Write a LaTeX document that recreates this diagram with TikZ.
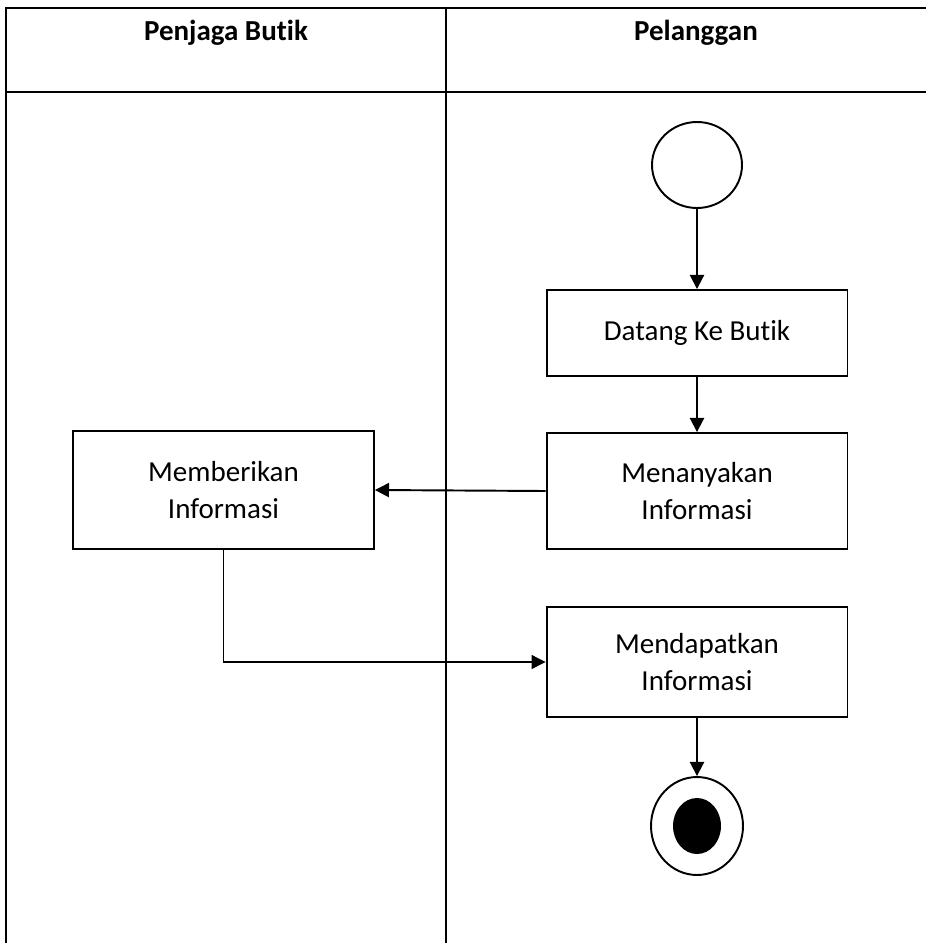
\documentclass[tikz,border=0pt]{standalone}
\usepackage{fontspec}
\setmainfont{Carlito}[Ligatures=NoCommon]
\usepackage{tikz}
\usetikzlibrary{positioning}
\usetikzlibrary{arrows.meta}
\usetikzlibrary{shapes.geometric}

\tikzset{
    lane/.style={line width=1.1pt},
    lanehead/.style={font=\fontsize{16.5}{20}\selectfont\bfseries},
    actbox/.style={draw, rectangle, line width=1.1pt, inner sep=0pt, align=center,
        minimum width=6.02cm, font=\fontsize{16.5}{21.5}\selectfont},
    flow/.style={line width=1.1pt, -{Triangle[length=8pt,width=8pt]}},
    thinflow/.style={line width=0.6pt, -{Triangle[length=8pt,width=8pt]}},
}

\begin{document}
\begin{tikzpicture}[x=0.02cm, y=-0.02cm]
    \useasboundingbox (0,0) rectangle (926,943);

    % Swimlanes
    \draw[lane] (6,943) -- (6,8) -- (926,8);
    \draw[lane] (6,92) -- (926,92);
    \draw[lane] (446,8) -- (446,943);
    \node[lanehead] (laneA) at (226,33) {Penjaga Butik};
    \node[lanehead] (laneB) at (696,33) {Pelanggan};

    % Nodes
    \node[draw, ellipse, line width=1.1pt, minimum width=1.8cm, minimum height=1.72cm] (start) at (697,165) {};
    \node[actbox, minimum height=1.72cm] (datang) at (697,333) {Datang Ke Butik};
    \node[actbox, minimum height=2.32cm] (tanya) at (697,491) {Menanyakan\\Informasi};
    \node[actbox, minimum height=2.36cm] (beri) at (223.5,490) {Memberikan\\Informasi};
    \node[actbox, minimum height=2.2cm] (dapat) at (697,662) {Mendapatkan\\Informasi};
    \node[draw, ellipse, line width=1.1pt, minimum width=1.84cm, minimum height=1.96cm] (end) at (697,826) {};
    \node[fill, ellipse, minimum width=0.96cm, minimum height=1.12cm] (endDot) at (end.center) {};

    % Edges
    \draw[flow] (start) -- (datang);
    \draw[flow] (datang) -- (tanya);
    \draw[flow] (tanya.west) -- (beri.east);
    \draw[thinflow] (beri.south) |- (dapat.west);
    \draw[flow] (dapat) -- (end);
\end{tikzpicture}
\end{document}
